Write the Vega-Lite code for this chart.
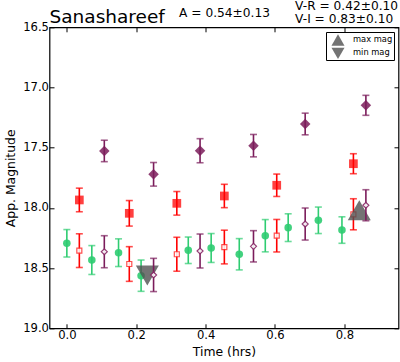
{
  "$schema": "https://vega.github.io/schema/vega-lite/v6.json",
  "width": 349,
  "height": 301,
  "autosize": {"type": "none"},
  "padding": {"left": 49.5, "top": 27.3, "right": 1.5, "bottom": 33.7},
  "background": "white",
  "config": {"view": {"stroke": "black", "strokeWidth": 1.2}, "font": "DejaVu Sans"},
  "datasets": {
    "phot": [
      {"series": "V", "t": 0.000, "mag": 18.294, "err": 0.114},
      {"series": "V", "t": 0.072, "mag": 18.433, "err": 0.120},
      {"series": "V", "t": 0.149, "mag": 18.372, "err": 0.115},
      {"series": "V", "t": 0.214, "mag": 18.563, "err": 0.130},
      {"series": "V", "t": 0.350, "mag": 18.352, "err": 0.110},
      {"series": "V", "t": 0.416, "mag": 18.333, "err": 0.120},
      {"series": "V", "t": 0.497, "mag": 18.385, "err": 0.130},
      {"series": "V", "t": 0.572, "mag": 18.231, "err": 0.134},
      {"series": "V", "t": 0.638, "mag": 18.164, "err": 0.115},
      {"series": "V", "t": 0.725, "mag": 18.103, "err": 0.110},
      {"series": "V", "t": 0.793, "mag": 18.184, "err": 0.110},
      {"series": "R", "t": 0.036, "mag": 17.934, "err": 0.098},
      {"series": "R", "t": 0.180, "mag": 18.045, "err": 0.106},
      {"series": "R", "t": 0.317, "mag": 17.962, "err": 0.098},
      {"series": "R", "t": 0.454, "mag": 17.901, "err": 0.097},
      {"series": "R", "t": 0.605, "mag": 17.812, "err": 0.093},
      {"series": "R", "t": 0.826, "mag": 17.633, "err": 0.083},
      {"series": "R shifted", "t": 0.036, "mag": 18.355, "err": 0.140},
      {"series": "R shifted", "t": 0.180, "mag": 18.466, "err": 0.144},
      {"series": "R shifted", "t": 0.317, "mag": 18.385, "err": 0.141},
      {"series": "R shifted", "t": 0.454, "mag": 18.325, "err": 0.140},
      {"series": "R shifted", "t": 0.605, "mag": 18.231, "err": 0.135},
      {"series": "R shifted", "t": 0.826, "mag": 18.053, "err": 0.129},
      {"series": "I", "t": 0.108, "mag": 17.527, "err": 0.089},
      {"series": "I", "t": 0.250, "mag": 17.721, "err": 0.098},
      {"series": "I", "t": 0.384, "mag": 17.525, "err": 0.100},
      {"series": "I", "t": 0.538, "mag": 17.483, "err": 0.093},
      {"series": "I", "t": 0.687, "mag": 17.303, "err": 0.090},
      {"series": "I", "t": 0.862, "mag": 17.148, "err": 0.083},
      {"series": "I shifted", "t": 0.108, "mag": 18.364, "err": 0.133},
      {"series": "I shifted", "t": 0.250, "mag": 18.557, "err": 0.138},
      {"series": "I shifted", "t": 0.384, "mag": 18.358, "err": 0.141},
      {"series": "I shifted", "t": 0.538, "mag": 18.319, "err": 0.130},
      {"series": "I shifted", "t": 0.687, "mag": 18.134, "err": 0.133},
      {"series": "I shifted", "t": 0.862, "mag": 17.978, "err": 0.129}
    ],
    "ext": [
      {"kind": "min mag", "t": 0.232, "mag": 18.562},
      {"kind": "max mag", "t": 0.843, "mag": 18.02}
    ],
    "notes": [
      {"note": "title", "label": "Sanashareef"},
      {"note": "amp", "label": "A  = 0.54±0.13"},
      {"note": "vr", "label": "V-R = 0.42±0.10"},
      {"note": "vi", "label": "V-I  = 0.83±0.10"}
    ]
  },
  "data": {"name": "phot"},
  "layer": [
    {
      "transform": [{"filter": "datum.series === 'V' || datum.series === 'R' || datum.series === 'R shifted'"}],
      "mark": {"type": "errorbar", "ticks": {"size": 7}, "thickness": 1.6},
      "encoding": {
        "x": {"field": "t", "type": "quantitative", "scale": {"domain": [-0.05, 0.956], "nice": false, "zero": false},
          "axis": {"orient": "bottom", "values": [0, 0.2, 0.4, 0.6, 0.8], "format": ".1f", "title": "Time (hrs)", "tickSize": -4.5, "tickColor": "black", "tickWidth": 1, "domain": false, "grid": false, "labelFont": "DejaVu Sans", "labelFontSize": 11.6, "labelColor": "black", "labelPadding": 6, "labelFlush": false, "titleFont": "DejaVu Sans", "titleFontSize": 12.4, "titleFontWeight": "normal", "titleColor": "black", "titlePadding": 4.5}},
        "y": {"field": "mag", "type": "quantitative", "scale": {"domain": [16.5, 19], "reverse": true, "nice": false, "zero": false},
          "axis": {"orient": "left", "values": [16.5, 17, 17.5, 18, 18.5, 19], "format": ".1f", "title": "App. Magnitude", "tickSize": -4.5, "tickColor": "black", "tickWidth": 1, "domain": false, "grid": false, "labelFont": "DejaVu Sans", "labelFontSize": 11.6, "labelColor": "black", "labelPadding": 5.5, "titleFont": "DejaVu Sans", "titleFontSize": 12.4, "titleFontWeight": "normal", "titleColor": "black", "titlePadding": 5}},
        "yError": {"field": "err"},
        "color": {"field": "series", "type": "nominal", "scale": {"domain": ["V", "R", "R shifted", "I", "I shifted"], "range": ["#2ecc71", "#ff0000", "#ff0000", "#7b1c5b", "#7b1c5b"]}, "legend": null}
      }
    },
    {
      "transform": [{"filter": "datum.series === 'V'"}],
      "mark": {"type": "point", "shape": "circle", "filled": true, "size": 57, "color": "#2ecc71", "opacity": 0.9},
      "encoding": {
        "x": {"field": "t", "type": "quantitative", "axis": null},
        "y": {"field": "mag", "type": "quantitative", "axis": null}
      }
    },
    {
      "transform": [{"filter": "datum.series === 'R'"}],
      "mark": {"type": "point", "shape": "square", "filled": true, "size": 76, "color": "#ff0000", "opacity": 0.75},
      "encoding": {
        "x": {"field": "t", "type": "quantitative", "axis": null},
        "y": {"field": "mag", "type": "quantitative", "axis": null}
      }
    },
    {
      "transform": [{"filter": "datum.series === 'R shifted'"}],
      "mark": {"type": "point", "shape": "square", "filled": false, "size": 25, "fill": "white", "fillOpacity": 1, "stroke": "#ff3030", "strokeWidth": 1.2, "opacity": 0.85},
      "encoding": {
        "x": {"field": "t", "type": "quantitative", "axis": null},
        "y": {"field": "mag", "type": "quantitative", "axis": null}
      }
    },
    {
      "data": {"name": "ext"},
      "mark": {"type": "point", "filled": true, "size": 529, "color": "#505050", "opacity": 0.8},
      "encoding": {
        "x": {"field": "t", "type": "quantitative", "axis": {"orient": "top", "values": [0, 0.2, 0.4, 0.6, 0.8], "labels": false, "title": null, "tickSize": -4.5, "tickColor": "black", "tickWidth": 1, "domain": false, "grid": false}},
        "y": {"field": "mag", "type": "quantitative", "axis": {"orient": "right", "values": [16.5, 17, 17.5, 18, 18.5, 19], "labels": false, "title": null, "tickSize": -4.5, "tickColor": "black", "tickWidth": 1, "domain": false, "grid": false}},
        "shape": {"field": "kind", "type": "nominal", "scale": {"domain": ["max mag", "min mag"], "range": ["triangle-up", "triangle-down"]},
          "legend": {"title": null, "orient": "none", "legendX": 276.5, "legendY": 4.7, "symbolSize": 170, "symbolStrokeWidth": 0, "labelFont": "DejaVu Sans", "labelFontSize": 8.3, "labelColor": "black", "strokeColor": "black", "fillColor": "white", "padding": 1, "rowPadding": 0.3, "symbolOffset": 4, "labelOffset": 8}}
      }
    },
    {
      "transform": [{"filter": "datum.series === 'I' || datum.series === 'I shifted'"}],
      "mark": {"type": "errorbar", "ticks": {"size": 7}, "thickness": 1.6},
      "encoding": {
        "x": {"field": "t", "type": "quantitative", "axis": null},
        "y": {"field": "mag", "type": "quantitative", "axis": null},
        "yError": {"field": "err"},
        "color": {"field": "series", "type": "nominal", "legend": null}
      }
    },
    {
      "transform": [{"filter": "datum.series === 'I'"}],
      "mark": {"type": "point", "shape": "diamond", "filled": true, "size": 110, "color": "#7b1c5b", "opacity": 0.85},
      "encoding": {
        "x": {"field": "t", "type": "quantitative", "axis": null},
        "y": {"field": "mag", "type": "quantitative", "axis": null}
      }
    },
    {
      "transform": [{"filter": "datum.series === 'I shifted'"}],
      "mark": {"type": "point", "shape": "diamond", "filled": false, "size": 36, "fill": "white", "fillOpacity": 1, "stroke": "#8a2a68", "strokeWidth": 1.2, "opacity": 0.9},
      "encoding": {
        "x": {"field": "t", "type": "quantitative", "axis": null},
        "y": {"field": "mag", "type": "quantitative", "axis": null}
      }
    },
    {
      "data": {"name": "notes"},
      "transform": [{"filter": "datum.note === 'title'"}],
      "mark": {"type": "text", "align": "left", "baseline": "alphabetic", "font": "DejaVu Sans", "fontSize": 18.5, "color": "black", "clip": false},
      "encoding": {
        "x": {"datum": -0.05, "type": "quantitative", "axis": null},
        "y": {"datum": 16.462, "type": "quantitative", "axis": null},
        "text": {"field": "label"}
      }
    },
    {
      "data": {"name": "notes"},
      "transform": [{"filter": "datum.note === 'amp'"}],
      "mark": {"type": "text", "align": "left", "baseline": "alphabetic", "font": "DejaVu Sans", "fontSize": 12.2, "color": "black", "clip": false},
      "encoding": {
        "x": {"datum": 0.3236, "type": "quantitative", "axis": null},
        "y": {"datum": 16.412, "type": "quantitative", "axis": null},
        "text": {"field": "label"}
      }
    },
    {
      "data": {"name": "notes"},
      "transform": [{"filter": "datum.note === 'vr'"}],
      "mark": {"type": "text", "align": "left", "baseline": "alphabetic", "font": "DejaVu Sans", "fontSize": 12.2, "color": "black", "clip": false},
      "encoding": {
        "x": {"datum": 0.658, "type": "quantitative", "axis": null},
        "y": {"datum": 16.353, "type": "quantitative", "axis": null},
        "text": {"field": "label"}
      }
    },
    {
      "data": {"name": "notes"},
      "transform": [{"filter": "datum.note === 'vi'"}],
      "mark": {"type": "text", "align": "left", "baseline": "alphabetic", "font": "DejaVu Sans", "fontSize": 12.2, "color": "black", "clip": false},
      "encoding": {
        "x": {"datum": 0.658, "type": "quantitative", "axis": null},
        "y": {"datum": 16.464, "type": "quantitative", "axis": null},
        "text": {"field": "label"}
      }
    }
  ],
  "resolve": {"axis": {"x": "independent", "y": "independent"}}
}
